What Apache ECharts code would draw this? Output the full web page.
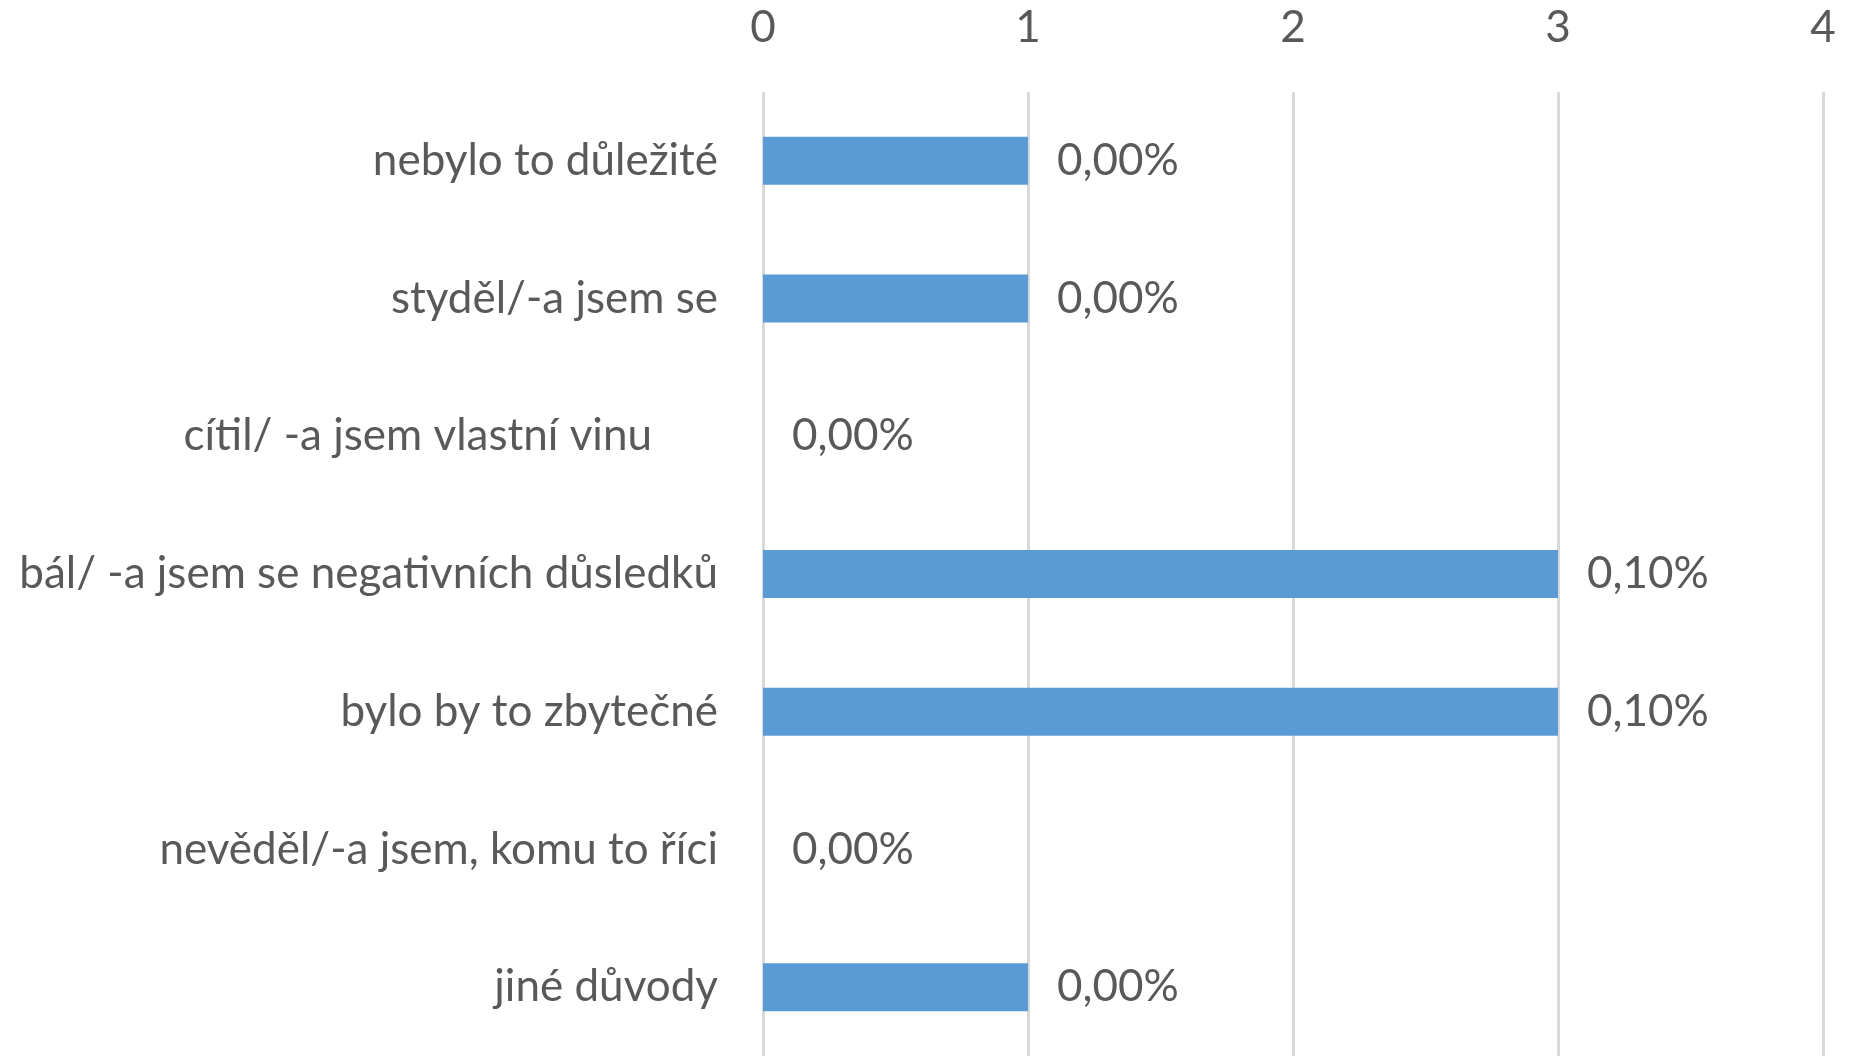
<!DOCTYPE html>
<html>
<head>
<meta charset="utf-8">
<script src="https://cdn.jsdelivr.net/npm/echarts@6/dist/echarts.min.js"></script>
<style>html,body{margin:0;padding:0;background:#fff;}#c{width:1854px;height:1056px;}</style>
</head>
<body>
<div id="c"></div>
<script>
const categories = [
  "nebylo to důležité",
  "styděl/-a jsem se",
  "cítil/ -a jsem vlastní vinu",
  "bál/ -a jsem se negativních důsledků",
  "bylo by to zbytečné",
  "nevěděl/-a jsem, komu to říci",
  "jiné důvody"
];
const values = [1, 1, 0, 3, 3, 0, 1];
const valueLabels = ["0,00%", "0,00%", "0,00%", "0,10%", "0,10%", "0,00%", "0,00%"];
const tickLabels = ["0", "1", "2", "3", "4"];

const FONT = "Lato";
const FS = 44;
const chart = echarts.init(document.getElementById('c'), null, {renderer: 'canvas'});
chart.setOption({
  animation: false,
  backgroundColor: '#ffffff',
  grid: {left: 763, right: 31, top: 92, height: 968, containLabel: false},
  xAxis: {
    type: 'value', position: 'top', min: 0, max: 4, interval: 1,
    axisLine: {show: false}, axisTick: {show: false},
    axisLabel: {margin: 42, color: '#595959', fontFamily: FONT, fontSize: FS,
      formatter: (v) => tickLabels[Math.round(v)]},
    splitLine: {show: true, lineStyle: {color: '#d9d9d9', width: 3}}
  },
  yAxis: {
    type: 'category', data: categories, inverse: true,
    axisLine: {show: false}, axisTick: {show: false},
    axisLabel: {margin: 45, color: '#595959', fontFamily: FONT, fontSize: FS,
      formatter: (v) => v === categories[2] ? '{s|' + v + '}' : v,
      rich: {s: {padding: [0, 66, 0, 0], color: '#595959', fontFamily: FONT, fontSize: FS}}}
  },
  series: [{
    type: 'bar', data: values, barWidth: 48,
    itemStyle: {color: '#5b9bd5'},
    label: {show: true, position: 'right', distance: 29, color: '#595959',
      fontFamily: FONT, fontSize: FS,
      formatter: (p) => valueLabels[p.dataIndex]}
  }]
});
</script>
</body>
</html>
